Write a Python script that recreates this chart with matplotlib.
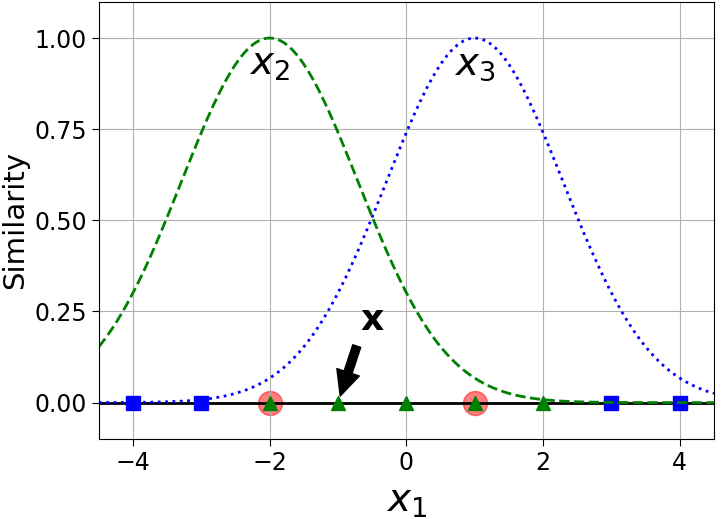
import numpy as np
import matplotlib.pyplot as plt

# 1D points and their classes
x1_points = [-4, -3, -2, -1, 0, 1, 2, 3, 4]
classes = [0, 0, 1, 1, 1, 1, 1, 0, 0]
landmarks = [-2, 1]
gamma = 0.3


def gaussian_rbf(x, landmark, gamma):
    return np.exp(-gamma * (x - landmark) ** 2)


x1s = np.linspace(-4.5, 4.5, 200)
x2s = gaussian_rbf(x1s, landmarks[0], gamma)
x3s = gaussian_rbf(x1s, landmarks[1], gamma)

xs = np.array(x1_points)
yk = np.array(classes)

fig = plt.figure(figsize=(7.27, 5.19), dpi=100)
ax = fig.add_axes([0.136, 0.154, 0.846, 0.843])
ax.grid(True, which='both')
ax.axhline(y=0, color='k', lw=2)
ax.scatter(x=landmarks, y=[0, 0], s=300, alpha=0.5, c="red")
ax.plot(xs[yk == 0], np.zeros((yk == 0).sum()), "bs", ms=9.5)
ax.plot(xs[yk == 1], np.zeros((yk == 1).sum()), "g^", ms=9.5)
ax.plot(x1s, x2s, "g--", lw=2)
ax.plot(x1s, x3s, "b:", lw=2)
ax.set_yticks([0, 0.25, 0.5, 0.75, 1])
ax.set_xticks([-4, -2, 0, 2, 4])
ax.tick_params(labelsize=17, length=5)
ax.set_xlabel(r"$x_1$", fontsize=28, labelpad=5)
ax.set_ylabel("Similarity", fontsize=21)
ax.annotate(r'$\mathbf{x}$',
            xy=(x1_points[3], 0),
            xytext=(-0.5, 0.20),
            ha="center",
            arrowprops=dict(facecolor='black', shrink=0.1,
                            width=6, headwidth=17, headlength=18),
            fontsize=26)
ax.text(-2, 0.9, "$x_2$", ha="center", fontsize=28)
ax.text(1, 0.9, "$x_3$", ha="center", fontsize=28)
ax.axis([-4.5, 4.5, -0.1, 1.1])

fig.savefig("out.png")
